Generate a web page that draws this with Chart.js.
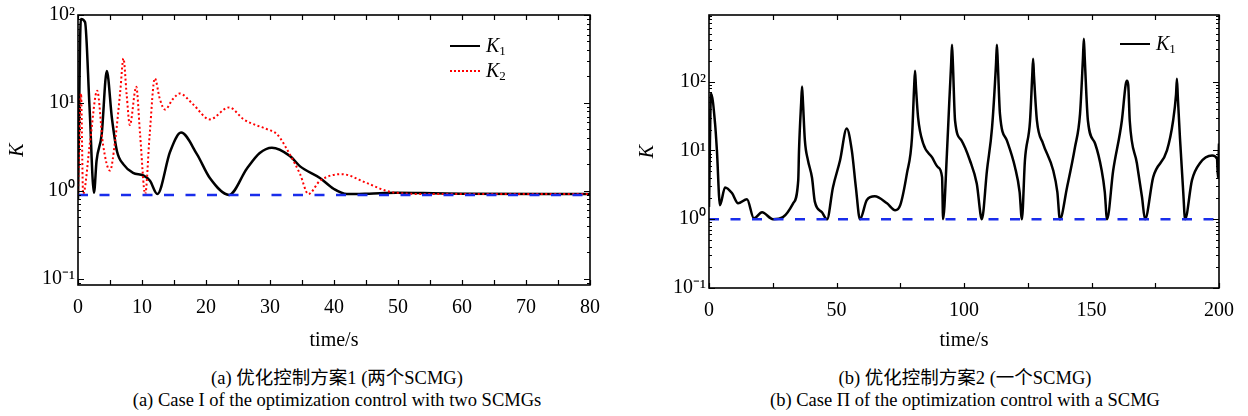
<!DOCTYPE html>
<html>
<head>
<meta charset="utf-8">
<script src="https://cdn.jsdelivr.net/npm/chart.js@4/dist/chart.umd.min.js"></script>
<style>
  html, body { margin:0; padding:0; background:#fff; }
  body { width:1248px; height:416px; position:relative; overflow:hidden; font-family:"Liberation Serif","Noto Sans CJK SC",serif; }
  .wrap { position:absolute; top:0; }
  .leg { position:absolute; font-size:20px; color:#000; white-space:nowrap; line-height:22px; }
  .leg .ln { display:inline-block; width:30px; vertical-align:middle; margin-right:6px; position:relative; top:-1px; }
  .leg i { font-style:italic; }
  .leg sub { font-size:13px; vertical-align:-3px; }
  .cap { position:absolute; width:640px; text-align:center; font-size:18.5px; color:#000; line-height:22px; }
</style>
</head>
<body>
<div class="wrap" style="left:0;width:620px;height:353px"><canvas id="ca" width="620" height="353"></canvas></div>
<div class="wrap" style="left:630px;width:618px;height:353px"><canvas id="cb" width="618" height="353"></canvas></div>
<div id="legA"></div>
<div id="legB"></div>
<div class="cap" style="left:17px;top:367px">(a) 优化控制方案1 (两个SCMG)<br>(a) Case I of the optimization control with two SCMGs</div>
<div class="cap" style="left:645px;top:367px">(b) 优化控制方案2 (一个SCMG)<br>(b) Case Π of the optimization control with a SCMG</div>
<script>
// ---------- DATA: chart (a) ----------
const timeK1a = [0, 0.45, 1.1, 1.8, 2.5, 2.9, 3.7, 4.5, 5.3, 6.1, 7.1, 8.6, 10.2, 11.25, 12.4, 14.4, 16.1, 18.6, 20.6, 23.6, 26.4, 28.4, 30.3, 33.1, 34.7, 37.8, 40, 42, 45.5, 49.8, 55.5, 60, 80];
const K1a     = [0.8, 90, 83, 9, 0.95, 2.2, 4.4, 23, 6.7, 2.8, 2.0, 1.6, 1.5, 1.3, 0.92, 2.8, 4.6, 2.6, 1.4, 0.9, 1.8, 2.7, 3.1, 2.5, 1.9, 1.4, 1.05, 0.92, 0.93, 0.95, 0.94, 0.93, 0.92];
const timeK2a = [0, 0.47, 0.8, 1.9, 3.0, 3.9, 5.0, 5.8, 6.6, 7.1, 7.6, 8.1, 9.1, 9.7, 10.5, 11.2, 12.0, 12.8, 13.6, 14.8, 15.9, 18, 20.6, 23.6, 25.9, 27, 29.6, 31.1, 33.1, 34.7, 36, 37.8, 41.2, 45.1, 48.2, 50.5, 55, 80];
const K2a     = [0.9, 12.8, 0.92, 3.7, 13.8, 3.4, 1.7, 3.7, 13.5, 32, 12.5, 5.6, 15.3, 4.4, 0.92, 4.4, 19, 11, 8.4, 11, 12.8, 9.6, 6.5, 8.9, 6.5, 5.9, 5.0, 4.4, 2.6, 1.55, 0.92, 1.3, 1.55, 1.23, 1.0, 0.94, 0.92, 0.92];
const refTimeA = [0, 80];
const refA     = [0.9, 0.9];
const xTicksA  = [0, 5, 10, 15, 20, 25, 30, 35, 40, 45, 50, 55, 60, 65, 70, 75, 80];
const xLabelsA = ['0', '', '10', '', '20', '', '30', '', '40', '', '50', '', '60', '', '70', '', '80'];
const yTicksA  = [0.1, 1, 10, 100];
const yLabelsA = ['10⁻¹', '10⁰', '10¹', '10²'];

// ---------- DATA: chart (b) ----------
const timeK1b = [0, 0.8, 2.4, 3.1, 4.3, 6.3, 9, 11.4, 14.9, 17.6, 20.8, 25.1, 29, 33, 35, 35.3, 36.15, 36.5, 36.85, 37.6, 38.8, 40.4, 41.5, 44.3, 46.3,
  48.6, 51.4, 54, 56, 57.6, 59.2, 61.9, 65, 69.8, 73, 75, 77.6, 79.6, 80.45, 80.8, 81.15, 82, 84, 87.5, 89.8, 91.4, 91.8,
  93.3, 94.2, 94.95, 95.3, 95.65, 96.5, 99, 102.3, 105, 107,
  109, 111, 112.55, 112.9, 113.25, 114.1, 116.8, 120, 121.8, 122.7,
  123.9, 125.9, 126.75, 127.1, 127.45, 128.6, 131, 135, 136.6, 137.6,
  140.4, 143.5, 145.5, 146.65, 147, 147.35, 148.6, 151.4, 154, 155.2, 156.1,
  158.5, 161.9, 163.4, 163.9, 164.4, 165, 167.8, 169.8, 171,
  174.2, 179.6, 182, 183.15, 183.5, 183.85, 184.7, 186, 186.7,
  189.4, 192.5, 197.3, 199.2, 199.6, 200];
const K1b = [1.5, 67, 24, 10, 1.6, 2.9, 2.4, 1.7, 1.95, 1.03, 1.26, 1.0, 1.07, 1.7, 3.7, 10, 50, 85, 50, 14, 7.2, 4.0, 1.8, 1.26, 1.0,
  2.9, 7.2, 20.8, 10, 2.9, 1.0, 1.9, 2.15, 1.7, 1.35, 1.6, 4.6, 15.4, 85, 144, 85, 30, 12.6, 7.9, 5.7, 4.1, 1.0,
  9, 48, 180, 345, 180, 27, 14, 7.2, 3.3, 1.0,
  5.1, 21.5, 180, 345, 190, 34, 14, 5.7, 2.5, 1.0,
  7.2, 27, 120, 215, 120, 27, 12.6, 5.1, 2.5, 1.0,
  2.9, 11, 34, 220, 420, 220, 27, 12.6, 5.1, 2.5, 1.0,
  5.1, 27, 90, 103, 90, 27, 6.5, 2.1, 1.0,
  4.1, 10, 27, 65, 110, 60, 15, 2.4, 1.0,
  3.7, 6.5, 8.4, 7.6, 4.0, 12.6];
const refTimeB = [0, 200];
const refB     = [1, 1];
const xTicksB  = [0, 25, 50, 75, 100, 125, 150, 175, 200];
const xLabelsB = ['0', '', '50', '', '100', '', '150', '', '200'];
const yTicksB  = [0.1, 1, 10, 100];
const yLabelsB = ['10⁻¹', '10⁰', '10¹', '10²'];

const legendA = ['K|1', 'K|2'];
const legendB = ['K|1'];

// ---------- helpers ----------
const pts = (xs, ys) => xs.map((x, i) => ({x, y: ys[i]}));
const tickFont = {family: 'Liberation Serif', size: 20};

const boxTicks = {
  id: 'boxTicks',
  afterDraw(chart) {
    const {ctx, chartArea: a, scales: {x, y}} = chart;
    ctx.save();
    ctx.strokeStyle = '#000';
    ctx.lineWidth = 1.2;
    ctx.beginPath();
    x.ticks.forEach(t => {
      const p = Math.round(x.getPixelForValue(t.value)) + 0.5;
      ctx.moveTo(p, a.bottom); ctx.lineTo(p, a.bottom - 5);
      ctx.moveTo(p, a.top); ctx.lineTo(p, a.top + 5);
    });
    const lo = Math.floor(Math.log10(y.min)), hi = Math.ceil(Math.log10(y.max));
    for (let e = lo; e <= hi; e++) {
      for (let m = 1; m < 10; m++) {
        const v = m * Math.pow(10, e);
        if (v < y.min * 0.999 || v > y.max * 1.001) continue;
        const p = Math.round(y.getPixelForValue(v)) + 0.5;
        const L = m === 1 ? 6 : 3;
        ctx.moveTo(a.left, p); ctx.lineTo(a.left + L, p);
        ctx.moveTo(a.right, p); ctx.lineTo(a.right - L, p);
      }
    }
    ctx.stroke();
    ctx.lineWidth = 1.6;
    ctx.strokeRect(a.left, a.top, a.right - a.left, a.bottom - a.top);
    ctx.restore();
  }
};

function makeChart(id, cfg) {
  const datasets = [
    {label: 'ref', data: pts(cfg.refT, cfg.ref), borderColor: 'rgb(25,45,235)', borderWidth: 2.5, borderDash: [10, 11.5], pointRadius: 0, fill: false},
  ];
  if (cfg.k2) datasets.push({label: 'K2', data: pts(cfg.k2t, cfg.k2), borderColor: 'rgb(255,0,0)', borderWidth: 2, borderDash: [2, 2.5], pointRadius: 0, cubicInterpolationMode: 'monotone', fill: false});
  datasets.push({label: 'K1', data: pts(cfg.k1t, cfg.k1), borderColor: '#000', borderWidth: 2.5, pointRadius: 0, cubicInterpolationMode: 'monotone', fill: false});
  return new Chart(document.getElementById(id), {
    type: 'line',
    data: {datasets},
    plugins: [boxTicks],
    options: {
      responsive: false, animation: false, devicePixelRatio: 1,
      layout: {padding: {top: 14, right: cfg.padRight, left: 0, bottom: 0}},
      plugins: {legend: {display: false}, tooltip: {enabled: false}},
      scales: {
        x: {
          type: 'linear', min: cfg.xmin, max: cfg.xmax,
          grid: {display: false, drawTicks: false},
          border: {display: false},
          afterBuildTicks: s => { s.ticks = cfg.xTicks.map(v => ({value: v})); },
          afterFit: s => { s.height = cfg.xh; },
          ticks: {autoSkip: false, maxRotation: 0, padding: cfg.xpad, color: '#000', font: tickFont,
            callback: v => { const i = cfg.xTicks.indexOf(v); return i >= 0 ? cfg.xLabels[i] : ''; }},
          title: {display: true, text: 'time/s', color: '#000', font: {family: 'Liberation Serif', size: 20}, padding: {top: 0, bottom: 0}}
        },
        y: {
          type: 'logarithmic', min: cfg.ymin, max: cfg.ymax,
          grid: {display: false, drawTicks: false},
          border: {display: false},
          afterBuildTicks: s => { s.ticks = cfg.yTicks.map(v => ({value: v})); },
          afterFit: s => { s.width = cfg.yw; },
          ticks: {autoSkip: false, padding: 3, color: '#000', font: tickFont,
            callback: v => { const i = cfg.yTicks.findIndex(t => Math.abs(t - v) < t * 1e-6); return i >= 0 ? cfg.yLabels[i] : ''; }},
          title: {display: true, text: 'K', color: '#000', font: {family: 'Liberation Serif', size: 20, style: 'italic'}, padding: {top: 6, bottom: 0}}
        }
      }
    }
  });
}

makeChart('ca', {k1t: timeK1a, k1: K1a, k2t: timeK2a, k2: K2a, refT: refTimeA, ref: refA,
  xmin: 0, xmax: 80, xTicks: xTicksA, xLabels: xLabelsA, yTicks: yTicksA, yLabels: yLabelsA,
  ymin: 0.085, ymax: 100, padRight: 30, yw: 78, xh: 68, xpad: 11});
makeChart('cb', {k1t: timeK1b, k1: K1b, refT: refTimeB, ref: refB,
  xmin: 0, xmax: 200, xTicks: xTicksB, xLabels: xLabelsB, yTicks: yTicksB, yLabels: yLabelsB,
  ymin: 0.1, ymax: 930, padRight: 29, yw: 79, xh: 65, xpad: 11});

// ---------- HTML legends ----------
function legend(elId, items, styles, left, top) {
  const el = document.getElementById(elId);
  items.forEach((it, i) => {
    const [main, sub] = it.split('|');
    const d = document.createElement('div');
    d.className = 'leg';
    d.style.left = left + 'px';
    d.style.top = (top + i * 25) + 'px';
    d.innerHTML = '<span class="ln" style="border-top:' + styles[i] + '"></span><i>' + main + '</i><sub>' + sub + '</sub>';
    el.appendChild(d);
  });
}
legend('legA', legendA, ['2.5px solid #000', '2px dotted #f00'], 450, 34);
legend('legB', legendB, ['2.5px solid #000'], 1120, 32);
</script>
</body>
</html>
